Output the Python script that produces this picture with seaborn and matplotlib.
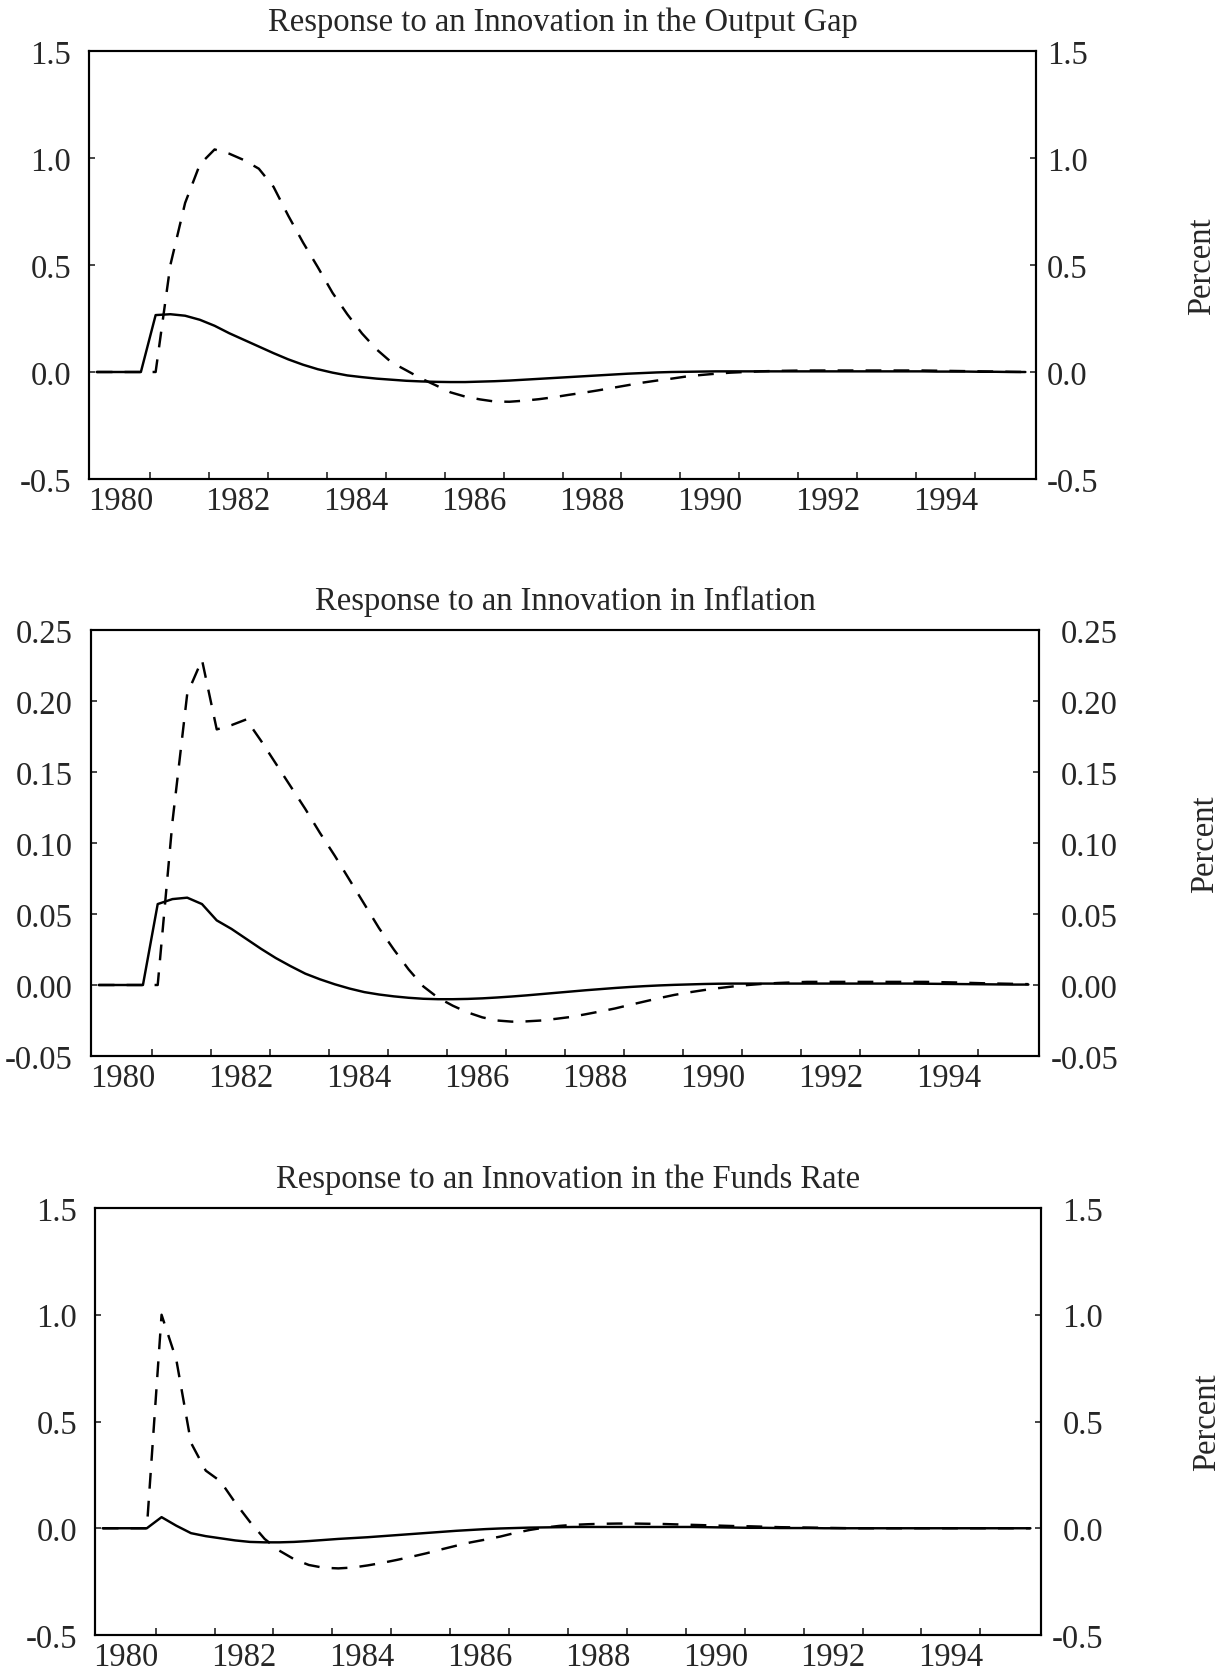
import matplotlib
matplotlib.use("Agg")
import matplotlib.pyplot as plt
import numpy as np
import pandas as pd
import seaborn as sns

# ---------------- data (quarterly, 1980Q1 .. 1995Q4) ----------------
quarters = pd.period_range("1980Q1", "1995Q4", freq="Q")

gap_solid = [0, 0, 0, 0, 0.266, 0.270, 0.263, 0.244,
             0.216, 0.181, 0.150, 0.119, 0.088, 0.059, 0.034, 0.013,
             -0.003, -0.016, -0.024, -0.031, -0.036, -0.041, -0.044, -0.046,
             -0.047, -0.047, -0.045, -0.043, -0.040, -0.036, -0.032, -0.028,
             -0.024, -0.020, -0.016, -0.012, -0.008, -0.005, -0.002, 0.000,
             0.001, 0.002, 0.003, 0.003, 0.003, 0.003, 0.003, 0.003,
             0.003, 0.003, 0.003, 0.003, 0.003, 0.003, 0.003, 0.003,
             0.003, 0.002, 0.002, 0.002, 0.001, 0.001, 0.000, 0.000]
gap_dashed = [0, 0, 0, 0, 0, 0.50, 0.79, 0.97,
              1.04, 1.02, 0.99, 0.95, 0.865, 0.73, 0.605, 0.49,
              0.37, 0.27, 0.18, 0.105, 0.045, 0.008, -0.030, -0.062,
              -0.095, -0.115, -0.128, -0.138, -0.139, -0.134, -0.127, -0.118,
              -0.107, -0.097, -0.086, -0.074, -0.062, -0.050, -0.040, -0.031,
              -0.021, -0.014, -0.008, -0.003, 0.000, 0.003, 0.005, 0.006,
              0.007, 0.007, 0.007, 0.007, 0.007, 0.007, 0.007, 0.007,
              0.007, 0.006, 0.005, 0.004, 0.003, 0.002, 0.001, 0.000]

infl_solid = [0, 0, 0, 0, 0.057, 0.0605, 0.0615, 0.057,
              0.0455, 0.0395, 0.0325, 0.0255, 0.019, 0.0133, 0.008, 0.004,
              0.0005, -0.0025, -0.005, -0.0067, -0.008, -0.009, -0.0097, -0.010,
              -0.010, -0.0098, -0.0094, -0.0088, -0.0081, -0.0073, -0.0064, -0.0055,
              -0.0046, -0.0037, -0.0029, -0.0021, -0.0014, -0.0008, -0.0003, 0.0001,
              0.0004, 0.0007, 0.0009, 0.001, 0.001, 0.001, 0.001, 0.001,
              0.001, 0.001, 0.001, 0.001, 0.001, 0.001, 0.001, 0.001,
              0.0009, 0.0008, 0.0007, 0.0006, 0.0005, 0.0004, 0.0003, 0.0003]
infl_dashed = [0, 0, 0, 0, 0, 0.115, 0.205, 0.229,
               0.180, 0.183, 0.187, 0.172, 0.156, 0.140, 0.124, 0.107,
               0.091, 0.074, 0.057, 0.040, 0.025, 0.011, -0.001, -0.009,
               -0.0146, -0.0193, -0.0228, -0.025, -0.0258, -0.0256, -0.025, -0.0238,
               -0.0225, -0.0206, -0.0186, -0.0165, -0.014, -0.0116, -0.0092, -0.007,
               -0.0052, -0.0036, -0.0022, -0.001, 0.0, 0.0008, 0.0014, 0.0018,
               0.0022, 0.0022, 0.0022, 0.0022, 0.0022, 0.0022, 0.0022, 0.0022,
               0.0022, 0.002, 0.0018, 0.0015, 0.0012, 0.001, 0.0008, 0.0006]

funds_solid = [0, 0, 0, 0, 0.052, 0.012, -0.023, -0.037,
               -0.047, -0.057, -0.064, -0.066, -0.066, -0.064, -0.060, -0.055,
               -0.050, -0.046, -0.042, -0.037, -0.032, -0.027, -0.022, -0.017,
               -0.012, -0.008, -0.004, -0.001, 0.001, 0.003, 0.004, 0.005,
               0.006, 0.006, 0.006, 0.006, 0.006, 0.006, 0.006, 0.006,
               0.006, 0.005, 0.004, 0.003, 0.002, 0.002, 0.001, 0.001,
               0.001, 0.0, 0.0, 0.0, 0.0, 0.0, 0.0, 0.0,
               0.0, 0.0, 0.0, 0.0, 0.0, 0.0, 0.0, 0.0]
funds_dashed = [0, 0, 0, 0, 1.00, 0.79, 0.40, 0.27,
                0.22, 0.12, 0.03, -0.05, -0.105, -0.145, -0.172, -0.185,
                -0.188, -0.184, -0.174, -0.162, -0.148, -0.133, -0.117, -0.099,
                -0.082, -0.066, -0.053, -0.039, -0.022, -0.008, 0.003, 0.011,
                0.016, 0.019, 0.021, 0.022, 0.022, 0.021, 0.020, 0.018,
                0.016, 0.014, 0.012, 0.010, 0.009, 0.007, 0.005, 0.004,
                0.003, 0.002, 0.001, 0.0, 0.0, 0.0, 0.0, 0.0,
                0.0, 0.0, 0.0, 0.0, 0.0, 0.0, 0.0, 0.0]

titles = ["Response to an Innovation in the Output Gap",
          "Response to an Innovation in Inflation",
          "Response to an Innovation in the Funds Rate"]
ytick_labels = [["1.5", "1.0", "0.5", "0.0", "-0.5"],
                ["0.25", "0.20", "0.15", "0.10", "0.05", "0.00", "-0.05"],
                ["1.5", "1.0", "0.5", "0.0", "-0.5"]]
xtick_labels = ["1980", "1982", "1984", "1986", "1988", "1990", "1992", "1994"]
ylabel = "Percent"

# ---------------- style ----------------
sns.set_theme(style="ticks")
plt.rcParams["font.family"] = ["Liberation Serif", "DejaVu Serif"]
plt.rcParams["font.size"] = 23.5
plt.rcParams["axes.edgecolor"] = "black"
plt.rcParams["axes.linewidth"] = 1.5

FS = 23.5
fig = plt.figure(figsize=(12.27, 16.74), dpi=100)
rects = [[89 / 1227, 1 - 480 / 1674, 947 / 1227, 428 / 1674],
         [91 / 1227, 1 - 1057 / 1674, 948 / 1227, 426 / 1674],
         [95 / 1227, 1 - 1636 / 1674, 946 / 1227, 427 / 1674]]
right_pads = [7.8, 56.9, 44.6]
right_ha = ["left", "right", "right"]

xq = quarters.year + (quarters.quarter - 1) / 4 + 0.1
panels = [(gap_solid, gap_dashed), (infl_solid, infl_dashed), (funds_solid, funds_dashed)]

for i, (solid, dashed) in enumerate(panels):
    ax = fig.add_axes(rects[i])
    df = pd.DataFrame({
        "date": np.concatenate([xq, xq]),
        "value": solid + dashed,
        "series": ["solid"] * len(solid) + ["dashed"] * len(dashed),
    })
    sns.lineplot(data=df, x="date", y="value", style="series",
                 dashes={"solid": "", "dashed": (6.5, 5)},
                 color="black", linewidth=1.75, legend=False,
                 estimator=None, errorbar=None, ax=ax)
    yvals = [float(s) for s in ytick_labels[i]]
    ax.set_ylim(min(yvals), max(yvals))
    ax.set_xlim(1979.97, 1996.03)
    ax.set_yticks(yvals)
    ax.set_yticklabels(ytick_labels[i])
    ax.set_xticks([int(s) + 0.5 for s in xtick_labels])
    ax.set_xticklabels(xtick_labels)
    ax.set_xticks(list(range(1981, 1996)), minor=True)
    ax.set_xlabel("")
    ax.set_ylabel("")
    ax.tick_params(axis="x", which="major", length=0, pad=5, labelsize=FS)
    ax.tick_params(axis="x", which="minor", direction="in", length=5, width=1.2,
                   bottom=True, top=False)
    ax.tick_params(axis="y", which="major", direction="in", length=4, width=1.2,
                   left=True, right=False, pad=13, labelsize=FS)
    for sp in ax.spines.values():
        sp.set_visible(True)
        sp.set_linewidth(1.5)
        sp.set_color("black")

    ax2 = ax.twinx()
    ax2.set_ylim(ax.get_ylim())
    ax2.set_yticks(yvals)
    ax2.set_yticklabels(ytick_labels[i])
    ax2.tick_params(axis="y", which="major", direction="in", length=4, width=1.2,
                    right=True, pad=right_pads[i], labelsize=FS)
    plt.setp(ax2.get_yticklabels(), ha=right_ha[i])
    for sp in ax2.spines.values():
        sp.set_linewidth(1.5)

    ax.set_title(titles[i], fontsize=FS, pad=15)
    ax.text(1.175, 0.5, ylabel, transform=ax.transAxes, rotation=90,
            ha="center", va="center", fontsize=FS)

fig.savefig("out.png", dpi=100, facecolor="white")
